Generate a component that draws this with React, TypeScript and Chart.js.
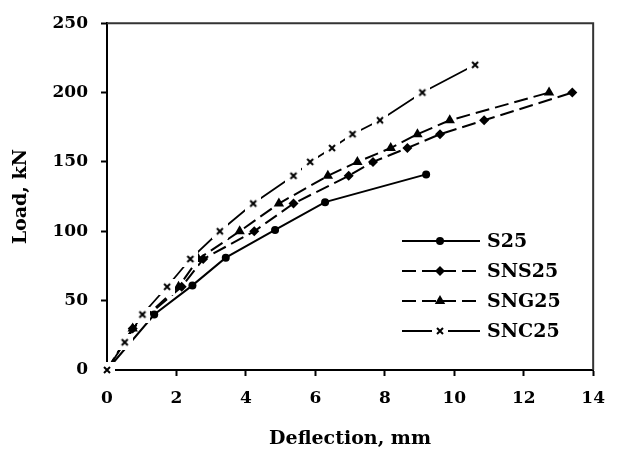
import React, { useEffect, useRef } from 'react';
import { Chart, registerables } from 'chart.js';

Chart.register(...registerables);

// ---- data ----
const seriesNames = ['S25', 'SNS25', 'SNG25', 'SNC25'];
const s25X = [0, 1.36, 2.46, 3.42, 4.84, 6.28, 9.19];
const s25Y = [0, 40, 61, 81, 101, 121, 141];
const sns25X = [0, 0.74, 2.15, 2.77, 4.24, 5.37, 6.96, 7.66, 8.65, 9.59, 10.86, 13.4];
const sns25Y = [0, 30, 60, 80, 100, 120, 140, 150, 160, 170, 180, 200];
const sng25X = [0, 0.74, 2.06, 2.63, 3.82, 4.95, 6.36, 7.21, 8.17, 8.94, 9.87, 12.73];
const sng25Y = [0, 30, 60, 80, 100, 120, 140, 150, 160, 170, 180, 200];
const snc25X = [0, 0.51, 1.02, 1.73, 2.4, 3.25, 4.21, 5.37, 5.85, 6.48, 7.07, 7.86, 9.08, 10.6];
const snc25Y = [0, 20, 40, 60, 80, 100, 120, 140, 150, 160, 170, 180, 200, 220];
const xMin = 0, xMax = 14, xStep = 2;
const yMin = 0, yMax = 250, yStep = 50;
const xTitle = 'Deflection, mm';
const yTitle = 'Load, kN';

const FONT = "'DejaVu Serif', 'Liberation Serif', serif";

function pts(xs: number[], ys: number[]) {
  return xs.map((x, i) => ({ x, y: ys[i] }));
}

function makeCrossMarker(): HTMLCanvasElement {
  const c = document.createElement('canvas');
  c.width = 16;
  c.height = 16;
  const g = c.getContext('2d')!;
  g.fillStyle = '#fff';
  g.fillRect(0, 0, 16, 16);
  g.strokeStyle = '#000';
  g.lineWidth = 2;
  g.beginPath();
  g.moveTo(5, 5);
  g.lineTo(11, 11);
  g.moveTo(11, 5);
  g.lineTo(5, 11);
  g.stroke();
  return c;
}

export default function App() {
  const ref = useRef<HTMLCanvasElement | null>(null);

  useEffect(() => {
    document.body.style.margin = '0';
    const cross = makeCrossMarker();
    const canvas = ref.current!;

    const datasets: any[] = [
      {
        label: seriesNames[0],
        data: pts(s25X, s25Y),
        borderColor: '#000',
        backgroundColor: '#000',
        borderWidth: 2,
        pointStyle: 'circle',
        pointRadius: 4,
        pointBorderWidth: 0,
        order: 3,
      },
      {
        label: seriesNames[1],
        data: pts(sns25X, sns25Y),
        borderColor: '#000',
        backgroundColor: '#000',
        borderWidth: 2,
        borderDash: [14, 6],
        pointStyle: 'rectRot',
        pointRadius: 5,
        pointBorderWidth: 0,
        order: 2,
      },
      {
        label: seriesNames[2],
        data: pts(sng25X, sng25Y),
        borderColor: '#000',
        backgroundColor: '#000',
        borderWidth: 2,
        borderDash: [14, 6],
        pointStyle: 'triangle',
        pointRadius: 6,
        pointBorderWidth: 0,
        order: 1,
      },
      {
        label: seriesNames[3],
        data: pts(snc25X, snc25Y),
        borderColor: '#000',
        backgroundColor: '#000',
        borderWidth: 1.8,
        pointStyle: cross,
        pointRadius: 8,
        order: 0,
      },
    ].map((d) => ({ ...d, tension: 0, clip: false, fill: false }));

    const framePlugin = {
      id: 'frame',
      beforeDatasetsDraw(chart: any) {
        const { ctx, chartArea } = chart;
        ctx.save();
        ctx.strokeStyle = '#333';
        ctx.lineWidth = 2;
        ctx.beginPath();
        ctx.moveTo(chartArea.left, chartArea.top);
        ctx.lineTo(chartArea.right, chartArea.top);
        ctx.lineTo(chartArea.right, chartArea.bottom);
        ctx.stroke();
        ctx.restore();
      },
    };

    const legendPlugin = {
      id: 'innerLegend',
      afterDraw(chart: any) {
        const { ctx } = chart;
        const x0 = 402, x1 = 480, xm = 440, xt = 487;
        const ys = [241, 271, 301, 331];
        ctx.save();
        chart.data.datasets.forEach((ds: any, i: number) => {
          const y = ys[i];
          ctx.strokeStyle = '#000';
          ctx.lineWidth = ds.borderWidth || 2;
          ctx.setLineDash(ds.borderDash || []);
          ctx.beginPath();
          ctx.moveTo(x0, y);
          ctx.lineTo(x1, y);
          ctx.stroke();
          ctx.setLineDash([]);
          ctx.fillStyle = '#000';
          const st = ds.pointStyle;
          if (st === 'circle') {
            ctx.beginPath();
            ctx.arc(xm, y, 4, 0, Math.PI * 2);
            ctx.fill();
          } else if (st === 'rectRot') {
            ctx.beginPath();
            ctx.moveTo(xm, y - 5);
            ctx.lineTo(xm + 5, y);
            ctx.lineTo(xm, y + 5);
            ctx.lineTo(xm - 5, y);
            ctx.closePath();
            ctx.fill();
          } else if (st === 'triangle') {
            ctx.beginPath();
            ctx.moveTo(xm, y - 6);
            ctx.lineTo(xm + 5.2, y + 3);
            ctx.lineTo(xm - 5.2, y + 3);
            ctx.closePath();
            ctx.fill();
          } else if (st instanceof HTMLCanvasElement) {
            ctx.drawImage(st, xm - st.width / 2, y - st.height / 2);
          }
          ctx.font = `bold 19px ${FONT}`;
          ctx.textBaseline = 'middle';
          ctx.textAlign = 'left';
          ctx.fillText(ds.label, xt, y + 1);
        });
        ctx.restore();
      },
    };

    const tickFont = { family: FONT, size: 17, weight: 'bold' as const };
    const titleFont = { family: FONT, size: 19, weight: 'bold' as const };

    const chart = new Chart(canvas, {
      type: 'line',
      data: { datasets },
      options: {
        responsive: false,
        animation: false,
        events: [],
        layout: { padding: { left: 0, right: 15, top: 20, bottom: 0 } },
        plugins: {
          legend: { display: false },
          tooltip: { enabled: false },
        },
        scales: {
          x: {
            type: 'linear',
            min: xMin,
            max: xMax,
            ticks: { stepSize: xStep, color: '#000', font: tickFont, padding: 12, maxRotation: 0 },
            grid: { display: true, drawOnChartArea: false, drawTicks: true, tickLength: 6, tickColor: '#000', tickWidth: 2 },
            border: { display: true, color: '#000', width: 2 },
            title: { display: true, text: xTitle, color: '#000', font: titleFont, padding: { top: 0, bottom: 5 } },
            afterFit: (s: any) => { s.height = 85; },
          },
          y: {
            type: 'linear',
            min: yMin,
            max: yMax,
            ticks: { stepSize: yStep, color: '#000', font: tickFont, padding: 13 },
            grid: { display: true, drawOnChartArea: false, drawTicks: true, tickLength: 6, tickColor: '#000', tickWidth: 2 },
            border: { display: true, color: '#000', width: 2 },
            title: { display: true, text: yTitle, color: '#000', font: titleFont, padding: { top: 10, bottom: 0 } },
            afterFit: (s: any) => { s.width = 107; },
          },
        },
      },
      plugins: [framePlugin, legendPlugin],
    });

    return () => chart.destroy();
  }, []);

  return (
    <div style={{ width: 617, height: 455, background: '#fff' }}>
      <canvas ref={ref} width={617} height={455} style={{ display: 'block' }} />
    </div>
  );
}
